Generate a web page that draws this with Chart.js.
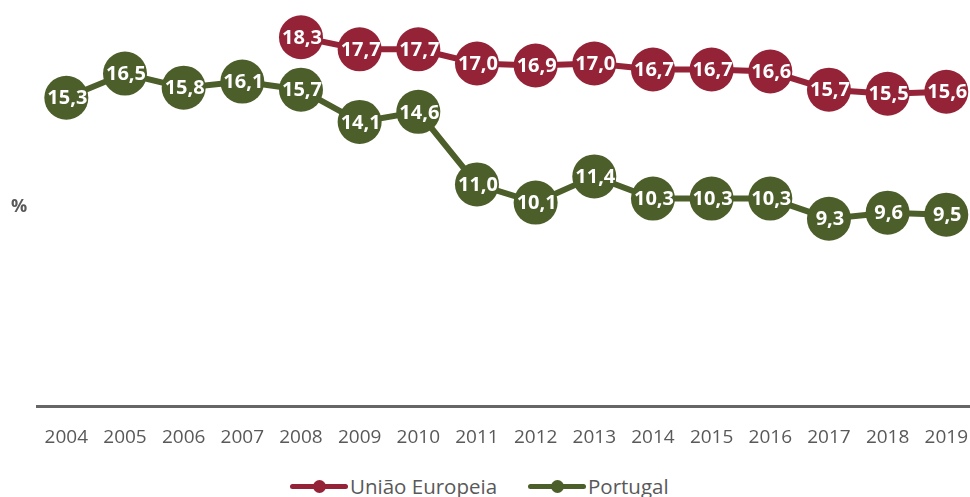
<!DOCTYPE html>
<html>
<head>
<meta charset="utf-8">
<script src="https://cdn.jsdelivr.net/npm/chart.js@4.4.1/dist/chart.umd.min.js"></script>
<style>
  html, body { margin:0; padding:0; background:#fff; overflow:hidden; width:970px; height:497px; }
  #c { position:absolute; left:0; top:0; }
  #pct { position:absolute; left:11px; top:193px; font: bold 18px "Open Sans", sans-serif; color:#595959; }
  #legend { position:absolute; top:474px; left:0; width:970px; height:23px; font: 20.5px "Open Sans", sans-serif; color:#595959; }
  .item { position:absolute; top:0; display:flex; align-items:center; height:23px; }
  .mk { position:relative; width:58px; height:23px; margin-right:2px; }
  .mk .ln { position:absolute; left:0; right:0; top:10px; height:5px; border-radius:3px; }
  .mk .dt { position:absolute; left:23px; top:6px; width:13px; height:13px; border-radius:50%; }
</style>
</head>
<body>
<canvas id="c" width="988" height="469"></canvas>
<div id="pct">%</div>
<div id="legend"></div>
<script>
const years = ['2004','2005','2006','2007','2008','2009','2010','2011','2012','2013','2014','2015','2016','2017','2018','2019'];
const euValues = [null,null,null,null,18.3,17.7,17.7,17.0,16.9,17.0,16.7,16.7,16.6,15.7,15.5,15.6];
const ptValues = [15.3,16.5,15.8,16.1,15.7,14.1,14.6,11.0,10.1,11.4,10.3,10.3,10.3,9.3,9.6,9.5];
const seriesNames = ['União Europeia','Portugal'];
const euColor = '#952337';
const ptColor = '#4C5E2A';

const legend = document.getElementById('legend');
[[seriesNames[0], euColor, 290],[seriesNames[1], ptColor, 528]].forEach(([n,c,x])=>{
  const it = document.createElement('div');
  it.className='item'; it.style.left = x+'px';
  it.innerHTML = '<div class="mk"><div class="ln" style="background:'+c+'"></div><div class="dt" style="background:'+c+'"></div></div><span>'+n+'</span>';
  legend.appendChild(it);
});

const labelPlugin = {
  id:'pointLabels',
  afterDatasetsDraw(chart){
    const ctx = chart.ctx;
    ctx.save();
    ctx.font = 'bold 20px "Open Sans", sans-serif';
    ctx.fillStyle = '#fff';
    ctx.textAlign = 'center';
    ctx.textBaseline = 'middle';
    chart.data.datasets.forEach((ds,i)=>{
      const meta = chart.getDatasetMeta(i);
      meta.data.forEach((pt,j)=>{
        const v = ds.data[j];
        if (v === null || v === undefined) return;
        ctx.fillText(v.toFixed(1).replace('.',','), pt.x + 1, pt.y + 1);
      });
    });
    ctx.restore();
  }
};

new Chart(document.getElementById('c'), {
  type:'line',
  data:{
    labels: years,
    datasets:[
      { label: seriesNames[0], data: euValues, borderColor: euColor, backgroundColor: euColor,
        borderWidth:6, pointRadius:22, pointHoverRadius:22, pointBorderWidth:0, spanGaps:false, tension:0, clip:false },
      { label: seriesNames[1], data: ptValues, borderColor: ptColor, backgroundColor: ptColor,
        borderWidth:6, pointRadius:22, pointHoverRadius:22, pointBorderWidth:0, tension:0, clip:false }
    ]
  },
  options:{
    responsive:false, animation:false, devicePixelRatio:1,
    layout:{ autoPadding:false, padding:{ left:37, right:0, top:3, bottom:0 } },
    plugins:{ legend:{ display:false }, tooltip:{ enabled:false } },
    scales:{
      x:{
        offset:true,
        grid:{ display:false, drawTicks:false },
        border:{ display:true, color:'#666666', width:3 },
        ticks:{ color:'#595959', font:{ family:'"Open Sans", sans-serif', size:19 }, padding:20, maxRotation:0, autoSkip:false }
      },
      y:{
        display:false, min:0, max:20
      }
    }
  },
  plugins:[labelPlugin]
});
</script>
</body>
</html>
